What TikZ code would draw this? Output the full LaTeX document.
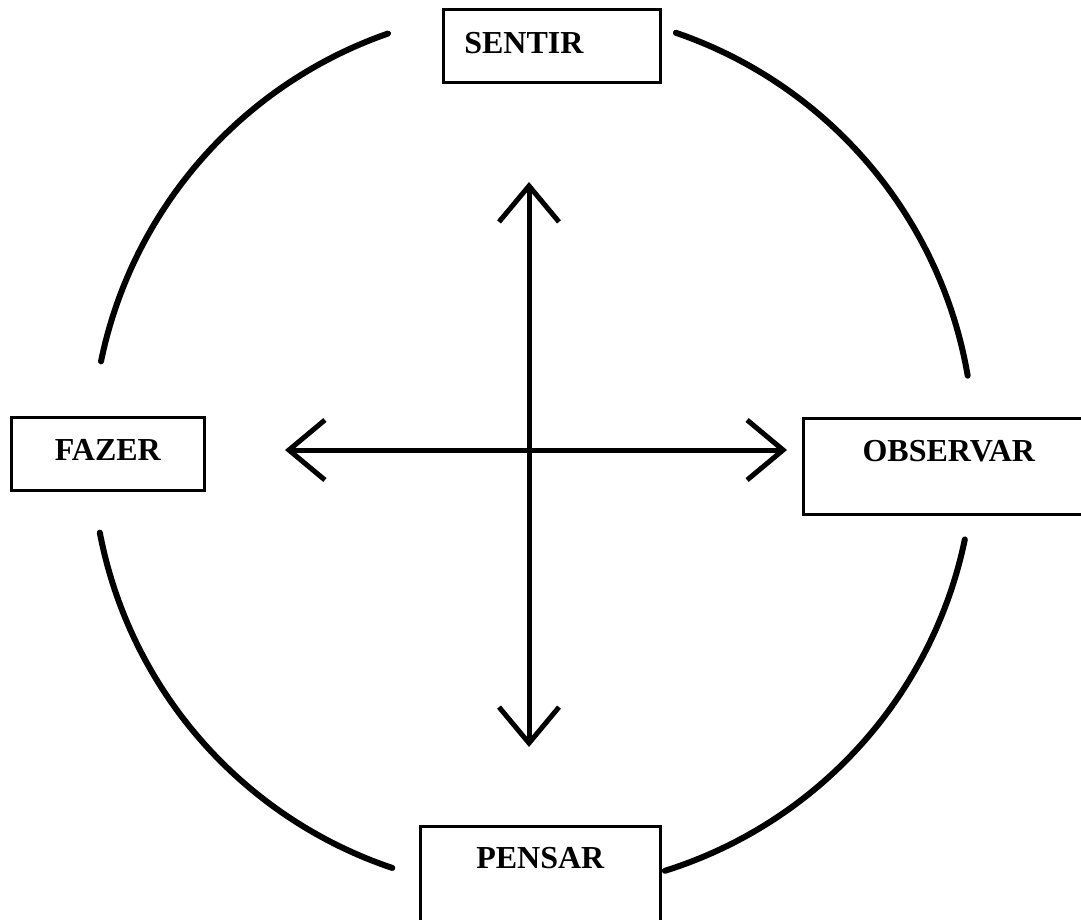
\documentclass[tikz,border=0pt]{standalone}
\usepackage{fontspec}
\setmainfont{Liberation Serif}
\usetikzlibrary{arrows.meta,calc}
\begin{document}
\begin{tikzpicture}[x=1pt,y=-1pt,
  box/.style={draw, line width=2.6pt, inner ysep=0pt, anchor=north west,
    font=\fontsize{32}{38}\selectfont\bfseries},
  ring/.style={line width=6pt, line cap=round},
  axis/.style={line width=5pt, {Straight Barb[length=36pt,width=60pt,line width=5pt]}-{Straight Barb[length=36pt,width=60pt,line width=5pt]}}]
\useasboundingbox (0,0) rectangle (1081,920);
\clip (0,0) rectangle (1081,920);
% boxes
\node[box, inner xsep=21pt, text width=175pt, align=left, text height=44pt, text depth=29pt] (sentir) at (442,8) {SENTIR};
\node[box, inner xsep=0pt, text width=193pt, align=center, text height=43pt, text depth=30pt] (fazer) at (10,416) {FAZER};
\node[box, inner xsep=0pt, text width=291pt, align=center, text height=43pt, text depth=53pt] (observar) at (802,417) {OBSERVAR};
\node[box, inner xsep=0pt, text width=240pt, align=center, text height=42pt, text depth=70pt] (pensar) at (419,825) {PENSAR};
% circle arcs (centre 533,450 ; radius 441)
\coordinate (c) at (533,450);
\draw[ring] ($(c)+(109.2:441 and -441)$) arc[start angle=109.2, end angle=168.4, x radius=441, y radius=-441];
\draw[ring] ($(c)+(71.1:441 and -441)$) arc[start angle=71.1, end angle=9.7, x radius=441, y radius=-441];
\draw[ring] ($(c)+(-11.7:441 and -441)$) arc[start angle=-11.7, end angle=-72.6, x radius=441, y radius=-441];
\draw[ring] ($(c)+(190.8:441 and -441)$) arc[start angle=190.8, end angle=251.4, x radius=441, y radius=-441];
% axes
\coordinate (top) at (529,182);
\coordinate (bot) at (529,747);
\coordinate (lft) at (285,450);
\coordinate (rgt) at (787,450);
\draw[axis] (bot) -- (top);
\draw[axis] (lft) -- (rgt);
\end{tikzpicture}
\end{document}
